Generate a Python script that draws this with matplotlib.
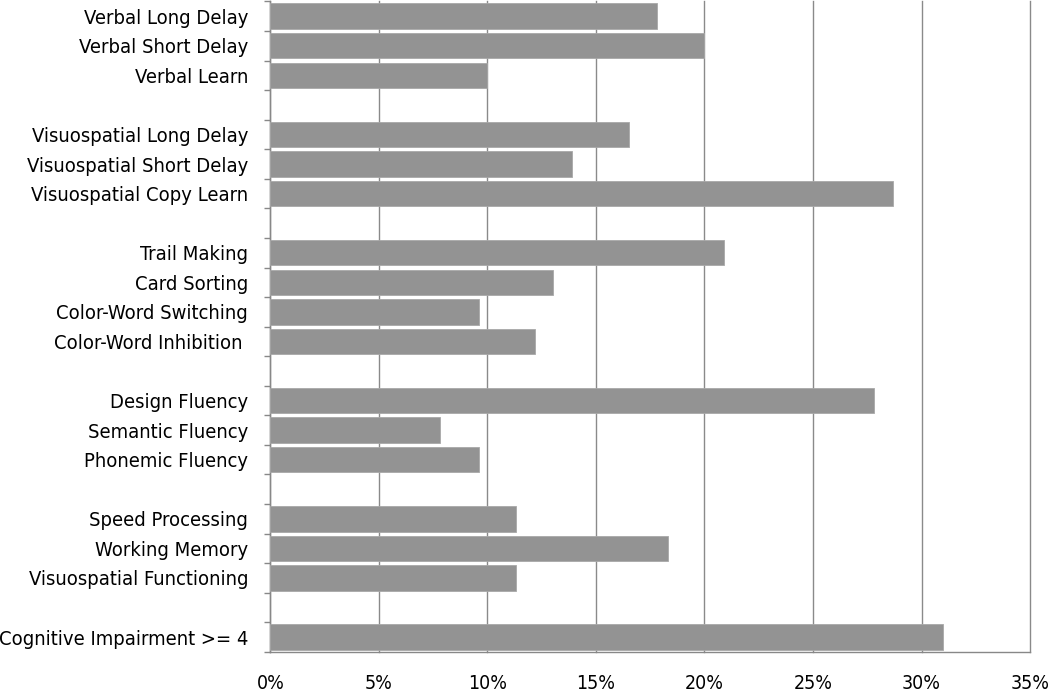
import matplotlib
matplotlib.use("Agg")
import matplotlib.pyplot as plt
from matplotlib.ticker import FixedLocator, PercentFormatter

# Data (top to bottom), grouped
group_labels = [
    ["Verbal Long Delay", "Verbal Short Delay", "Verbal Learn"],
    ["Visuospatial Long Delay", "Visuospatial Short Delay", "Visuospatial Copy Learn"],
    ["Trail Making", "Card Sorting", "Color-Word Switching", "Color-Word Inhibition "],
    ["Design Fluency", "Semantic Fluency", "Phonemic Fluency"],
    ["Speed Processing", "Working Memory", "Visuospatial Functioning"],
    ["Cognitive Impairment >= 4"],
]
group_values = [
    [17.8, 20.0, 10.0],
    [16.5, 13.9, 28.7],
    [20.9, 13.0, 9.6, 12.2],
    [27.8, 7.8, 9.6],
    [11.3, 18.3, 11.3],
    [31.0],
]
x_ticks = [0, 5, 10, 15, 20, 25, 30, 35]

plt.rcParams['font.family'] = ['DejaVu Sans']
plt.rcParams['font.stretch'] = 'condensed'

fig = plt.figure(figsize=(10.5, 6.95), dpi=100)
ax = fig.add_axes([0.2575, 0.062, 0.981 - 0.2575, 0.998 - 0.062])

labels, values, ypos = [], [], []
pos = 0
for gi, (gl, gv) in enumerate(zip(group_labels, group_values)):
    for l, v in zip(gl, gv):
        labels.append(l)
        values.append(v)
        ypos.append(pos)
        pos += 1
    if gi < len(group_labels) - 1:
        pos += 1  # blank slot between groups
n_slots = pos

ax.barh(ypos, values, height=0.86, color='#939393', edgecolor='#a8a8a8',
        linewidth=0.6, zorder=3)

ax.set_ylim(n_slots - 0.5, -0.5)
ax.set_xlim(0, 35)

ax.set_yticks(ypos)
ax.set_yticklabels(labels, fontsize=14.5, color='black', fontstretch='condensed')
ax.yaxis.set_minor_locator(FixedLocator([i - 0.5 for i in range(n_slots + 1)]))
ax.tick_params(axis='y', which='major', length=0, pad=16)
ax.tick_params(axis='y', which='minor', length=4, width=1, color='#888888')

ax.set_xticks(x_ticks)
ax.xaxis.set_major_formatter(PercentFormatter(decimals=0))
ax.tick_params(axis='x', which='major', length=0, pad=16, labelsize=14)
for t in ax.get_xticklabels():
    t.set_fontstretch('condensed')

ax.grid(axis='x', color='#8a8a8a', linewidth=1, zorder=0)
for gl in ax.get_xgridlines():
    gl.set_clip_on(False)
ax.set_axisbelow(True)

for s in ['top', 'right']:
    ax.spines[s].set_visible(False)
for s in ['left', 'bottom']:
    ax.spines[s].set_color('#888888')
    ax.spines[s].set_linewidth(1)

fig.savefig('out.png', dpi=100)
